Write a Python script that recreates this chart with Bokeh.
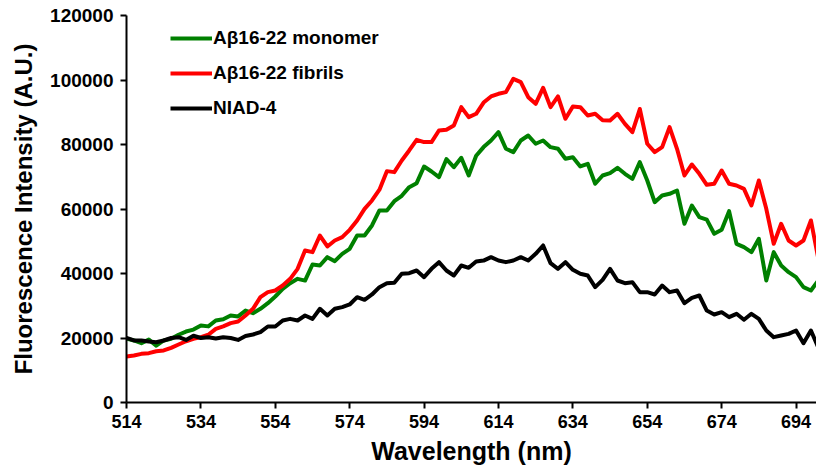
from bokeh.plotting import figure
from bokeh.models import FixedTicker, NumeralTickFormatter, Range1d, Legend, LegendItem
from bokeh.embed import file_html
from bokeh.resources import INLINE

wavelength = list(range(514, 701, 2))

monomer = [19800, 19230, 18400, 19500, 17600, 19230, 19740, 21000, 22000, 22600,
           23900, 23600, 25430, 25800, 27000, 26700, 28500,
           27700, 29050, 30800, 32870, 35250, 37000, 38350, 37800, 42790, 42480,
           45070, 43830, 46100, 47650, 51790, 51790,
           54890, 59540, 59540, 62430, 64090, 66770, 68010, 73180, 71630, 69880,
           75460, 72970, 75870, 70390, 76490, 79200,
           81250, 83830, 78670, 77630, 81250, 82800, 80220, 81250, 79180, 78670,
           75570, 76070, 73180, 74020, 67820, 70390,
           71110, 72770, 70910, 69360, 74520, 68840, 62120, 64190, 64710, 65740,
           55410, 61090, 57470, 56700,
           52310, 53550, 59330, 49200, 48170, 46620, 50750, 37830, 46620, 42480,
           40420, 38870, 35770, 34730, 37830]

fibrils = [14260, 14570, 15090, 15300, 15900, 16130, 16950, 18000, 19000, 19740,
           20260, 21000, 22840, 23600, 24600, 25100, 27000,
           29050, 32660, 34210, 34730, 36280, 38350, 41450, 47130, 46620, 51780,
           48380, 50240, 51270, 53550, 56430, 60060,
           62640, 66000, 71740, 71430, 75040, 78150, 81460, 80740, 80740, 84350,
           84560, 85900, 91580, 88480, 89520, 93000,
           94890, 95720, 96240, 100370, 99330, 94680, 92620, 97580, 91580, 94890,
           87970, 91790, 91580, 89000, 89520, 87500,
           87450, 89520, 86410, 83830, 91000, 80220, 77630, 79180, 85380, 78670,
           70390, 73800, 70910, 67500,
           67810, 71940, 67810, 67290, 66260, 61090, 68840, 60060, 49200, 55410,
           50240, 48690, 50240, 56440, 44560]

niad4 = [20050, 19230, 19230, 18900, 18700, 19230, 20000, 20260, 19400, 20700,
         20000, 20260, 19850, 20260, 20000, 19400, 20600,
         21090, 21810, 23570, 23570, 25430, 25940, 25430, 26980, 25940, 29050,
         26980, 29050, 29560, 30390, 32660, 31830,
         33490, 35770, 37000, 37110, 39900, 40100, 40930, 38870, 41450, 43520,
         40930, 39380, 42480, 41760, 43720, 44000,
         45070, 44030, 43520, 44030, 45070, 44030, 46100, 48690, 43210, 41450,
         43520, 41140, 39900, 39380, 35770, 38040,
         41450, 37830, 37000, 37310, 34210, 34210, 33490, 36280, 34210, 34730,
         30800, 32460, 33180, 28500,
         27290, 28010, 26460, 27500, 25640, 27500, 25940, 22330, 20260, 20780,
         21290, 22330, 18400, 22330, 17000]

series_names = ["A\u03b216-22 monomer", "A\u03b216-22 fibrils", "NIAD-4"]
series_colors = ["#008000", "#ff0000", "#000000"]
x_ticks = list(range(514, 700, 20))
y_ticks = list(range(0, 120001, 20000))

FONT = "Liberation Sans"

p = figure(width=816, height=475, output_backend="svg", toolbar_location=None,
           x_range=Range1d(514, 699.5), y_range=Range1d(0, 120000),
           min_border_left=126, min_border_right=0, min_border_top=15,
           min_border_bottom=73)
p.outline_line_color = None
p.grid.visible = False
p.background_fill_color = "white"
p.border_fill_color = "white"

renderers = []
for ys, c in zip([monomer, fibrils, niad4], series_colors):
    r = p.line(wavelength, ys, line_color=c, line_width=4, line_join="round")
    renderers.append(r)

for ax in (p.xaxis[0], p.yaxis[0]):
    ax.axis_line_width = 2
    ax.axis_line_color = "black"
    ax.major_tick_line_width = 2
    ax.major_tick_line_color = "black"
    ax.major_tick_in = 0
    ax.major_tick_out = 6
    ax.minor_tick_line_color = None
    ax.major_label_text_font = FONT
    ax.major_label_text_font_style = "bold"
    ax.major_label_text_color = "black"
    ax.axis_label_text_font = FONT
    ax.axis_label_text_font_style = "bold"
    ax.axis_label_text_color = "black"

p.xaxis.major_label_text_font_size = "18px"
p.yaxis.major_label_text_font_size = "19px"
p.xaxis.axis_label_text_font_size = "25px"
p.yaxis.axis_label_text_font_size = "24px"
p.xaxis.ticker = FixedTicker(ticks=x_ticks)
p.yaxis.ticker = FixedTicker(ticks=y_ticks)
p.yaxis.formatter = NumeralTickFormatter(format="0")
p.xaxis.axis_label = "Wavelength (nm)"
p.yaxis.axis_label = "Fluorescence Intensity (A.U.)"
p.xaxis.major_label_standoff = 6
p.yaxis.major_label_standoff = 7
p.xaxis.axis_label_standoff = 6
p.yaxis.axis_label_standoff = 10

legend = Legend(items=[LegendItem(label=n, renderers=[r]) for n, r in zip(series_names, renderers)],
                location=(44, 283), padding=0, margin=0, spacing=13,
                glyph_width=42, glyph_height=20, label_height=20, label_standoff=1,
                border_line_color=None, background_fill_alpha=0,
                label_text_font=FONT, label_text_font_style="bold",
                label_text_font_size="19px", label_text_color="black")
p.add_layout(legend, "center")

open("out.html", "w").write(file_html(p, INLINE))
